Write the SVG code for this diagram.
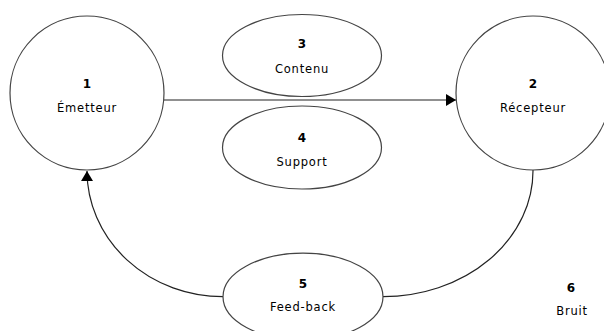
<svg xmlns="http://www.w3.org/2000/svg" width="604" height="331" viewBox="0 0 604 331">
<style>
.shape{fill:#fff;stroke:#444;stroke-width:1.2}
.conn{fill:none;stroke:#222;stroke-width:1.2}
.num{font-family:"DejaVu Sans",sans-serif;font-size:12px;font-weight:bold;fill:#000;text-anchor:middle}
.lbl{font-family:"DejaVu Sans",sans-serif;font-size:11.5px;fill:#000;text-anchor:middle;letter-spacing:0.8px}
</style>
<defs>
<marker id="arr" markerWidth="11" markerHeight="12" refX="10" refY="6" orient="auto" markerUnits="userSpaceOnUse">
<path d="M0,0 L10,6 L0,12 Z" fill="#000"/>
</marker>
</defs>
<rect width="604" height="331" fill="#fff"/>
<g id="connectors">
<line class="conn" x1="164" y1="100" x2="456" y2="100" marker-end="url(#arr)"/>
<path class="conn" d="M223,296.7 A136,126 0 0 1 87,171" marker-end="url(#arr)"/>
<path class="conn" d="M383,296.7 A150,126 0 0 0 533,170"/>
</g>
<g id="n1">
<circle class="shape" cx="87" cy="93" r="77"/>
<text class="num" x="87" y="88">1</text>
<text class="lbl" x="87" y="112">Émetteur</text>
</g>
<g id="n2">
<circle class="shape" cx="533" cy="93" r="77"/>
<text class="num" x="533" y="88">2</text>
<text class="lbl" x="533" y="112">Récepteur</text>
</g>
<g id="n3">
<ellipse class="shape" cx="302" cy="55.5" rx="79.5" ry="41"/>
<text class="num" x="302" y="48">3</text>
<text class="lbl" x="302" y="72.5">Contenu</text>
</g>
<g id="n4">
<ellipse class="shape" cx="302" cy="147.5" rx="79.5" ry="41.5"/>
<text class="num" x="302" y="141.5">4</text>
<text class="lbl" x="302" y="165.5">Support</text>
</g>
<g id="n5">
<ellipse class="shape" cx="303" cy="296.7" rx="80" ry="43.5"/>
<text class="num" x="303" y="287.5">5</text>
<text class="lbl" x="303" y="311">Feed-back</text>
</g>
<g id="n6">
<text class="num" x="571" y="291.5">6</text>
<text class="lbl" x="572" y="315">Bruit</text>
</g>
</svg>
